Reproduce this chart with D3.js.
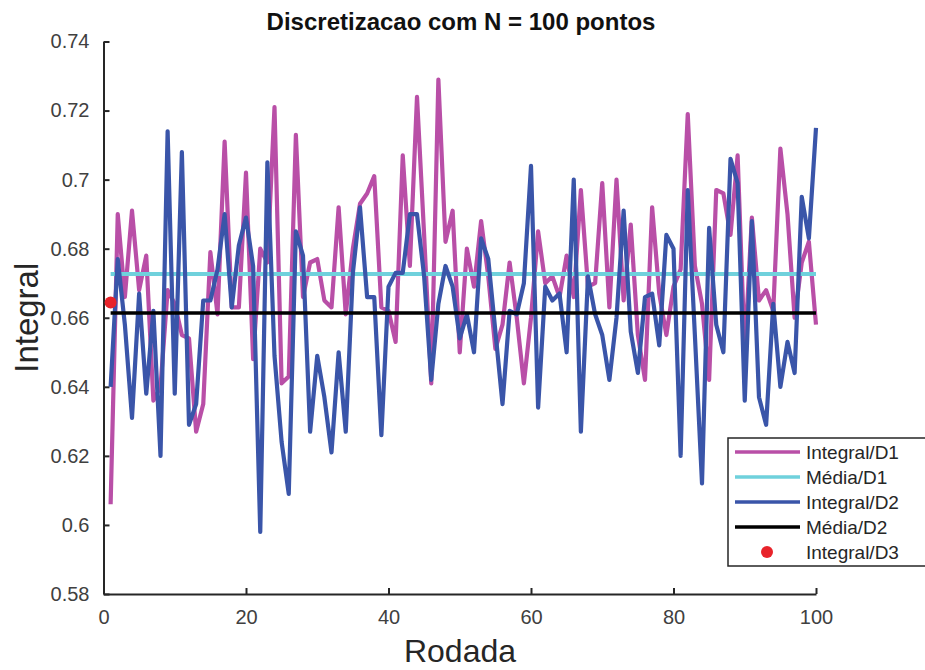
<!DOCTYPE html>
<html lang="pt">
<head>
    <meta charset="UTF-8">
    <title>Discretizacao</title>
    <style>
        body { margin: 0; background: #fff; }
        text { font-family: "Liberation Sans", Arial, Helvetica, sans-serif; }
    </style>
</head>
<body>
<div id="graph"></div>

<script src="https://cdnjs.cloudflare.com/ajax/libs/d3/7.8.5/d3.min.js"></script>

<script>
    // dados
    const rodadas = d3.range(1, 101);

    const integralD1 = [
        0.606, 0.690, 0.666, 0.691, 0.668, 0.678, 0.636, 0.640, 0.668, 0.664,
        0.655, 0.654, 0.627, 0.635, 0.679, 0.661, 0.711, 0.663, 0.663, 0.702,
        0.648, 0.680, 0.676, 0.721, 0.641, 0.643, 0.713, 0.666, 0.676, 0.677,
        0.665, 0.663, 0.692, 0.661, 0.680, 0.693, 0.696, 0.701, 0.663, 0.662,
        0.653, 0.707, 0.675, 0.724, 0.684, 0.641, 0.729, 0.682, 0.691, 0.650,
        0.680, 0.669, 0.688, 0.672, 0.651, 0.658, 0.676, 0.660, 0.641, 0.660,
        0.685, 0.670, 0.672, 0.666, 0.678, 0.666, 0.697, 0.669, 0.670, 0.699,
        0.663, 0.700, 0.665, 0.687, 0.655, 0.642, 0.692, 0.667, 0.655, 0.669,
        0.674, 0.719, 0.675, 0.664, 0.642, 0.697, 0.696, 0.684, 0.707, 0.650,
        0.689, 0.665, 0.668, 0.662, 0.709, 0.690, 0.660, 0.676, 0.682, 0.658
    ];

    const integralD2 = [
        0.640, 0.677, 0.658, 0.631, 0.667, 0.638, 0.662, 0.620, 0.714, 0.638,
        0.708, 0.629, 0.635, 0.665, 0.665, 0.674, 0.690, 0.663, 0.681, 0.689,
        0.675, 0.598, 0.705, 0.649, 0.624, 0.609, 0.685, 0.678, 0.627, 0.649,
        0.637, 0.621, 0.650, 0.627, 0.673, 0.692, 0.666, 0.666, 0.626, 0.669,
        0.673, 0.673, 0.690, 0.690, 0.672, 0.642, 0.664, 0.675, 0.669, 0.654,
        0.661, 0.650, 0.683, 0.677, 0.656, 0.635, 0.662, 0.661, 0.670, 0.704,
        0.634, 0.669, 0.665, 0.667, 0.650, 0.700, 0.627, 0.672, 0.661, 0.655,
        0.642, 0.660, 0.691, 0.656, 0.644, 0.666, 0.667, 0.652, 0.684, 0.680,
        0.620, 0.697, 0.655, 0.612, 0.686, 0.658, 0.650, 0.706, 0.699, 0.636,
        0.688, 0.637, 0.629, 0.664, 0.640, 0.653, 0.644, 0.695, 0.683, 0.715
    ];

    const mediaD1 = 0.6727;
    const mediaD2 = 0.6614;
    const integralD3 = {x: 1, y: 0.6644};

    const xTicks = [0, 20, 40, 60, 80, 100];
    const yTicks = [0.58, 0.6, 0.62, 0.64, 0.66, 0.68, 0.7, 0.72, 0.74];

    const legendItems = [
        {label: "Integral/D1", color: "#b94fa7", type: "line"},
        {label: "Média/D1", color: "#6fd1dc", type: "line"},
        {label: "Integral/D2", color: "#3a55a9", type: "line"},
        {label: "Média/D2", color: "#000000", type: "line"},
        {label: "Integral/D3", color: "#e8232a", type: "dot"}
    ];

    //config
    const width = 925, height = 670;
    const axisColor = "#262626";

    const svg = d3.select("#graph").append("svg")
        .attr("width", width)
        .attr("height", height);

    const x = d3.scaleLinear().domain([0, 100]).range([103.5, 816]);
    const y = d3.scaleLinear().domain([0.58, 0.74]).range([594, 41.5]);

    // eixos (box off, ticks para dentro)
    const xAxis = svg.append("g")
        .attr("transform", "translate(0," + y(0.58) + ")")
        .call(d3.axisBottom(x).tickValues(xTicks).tickSizeInner(-6).tickSizeOuter(0).tickPadding(16));
    const yAxis = svg.append("g")
        .attr("transform", "translate(" + x(0) + ",0)")
        .call(d3.axisLeft(y).tickValues(yTicks).tickFormat(d3.format("~g")).tickSizeInner(-6).tickSizeOuter(0).tickPadding(14));

    [xAxis, yAxis].forEach(a => {
        a.select(".domain").attr("stroke", axisColor).attr("stroke-width", 2);
        a.selectAll(".tick line").attr("stroke", axisColor).attr("stroke-width", 2);
        a.selectAll(".tick text")
            .attr("fill", "#404040")
            .style("font-size", "20px")
            .style("font-family", "'Liberation Sans', Arial, sans-serif");
    });

    const line = d3.line()
        .x((d, i) => x(rodadas[i]))
        .y(d => y(d));

    // Integral/D1
    svg.append("path")
        .datum(integralD1)
        .attr("d", line)
        .attr("fill", "none")
        .attr("stroke", legendItems[0].color)
        .attr("stroke-width", 4.2)
        .attr("stroke-linejoin", "round");

    // Media/D1
    svg.append("line")
        .attr("x1", x(1)).attr("x2", x(100))
        .attr("y1", y(mediaD1)).attr("y2", y(mediaD1))
        .attr("stroke", legendItems[1].color)
        .attr("stroke-width", 4);

    // Integral/D2
    svg.append("path")
        .datum(integralD2)
        .attr("d", line)
        .attr("fill", "none")
        .attr("stroke", legendItems[2].color)
        .attr("stroke-width", 4.2)
        .attr("stroke-linejoin", "round");

    // Media/D2
    svg.append("line")
        .attr("x1", x(1)).attr("x2", x(100))
        .attr("y1", y(mediaD2)).attr("y2", y(mediaD2))
        .attr("stroke", legendItems[3].color)
        .attr("stroke-width", 3.5);

    // Integral/D3
    svg.append("circle")
        .attr("cx", x(integralD3.x))
        .attr("cy", y(integralD3.y))
        .attr("r", 6)
        .attr("fill", legendItems[4].color);

    // titulo e rotulos
    svg.append("text")
        .attr("x", 461).attr("y", 30)
        .attr("text-anchor", "middle")
        .style("font-size", "24px")
        .style("font-weight", "bold")
        .attr("fill", "#111")
        .text("Discretizacao com N = 100 pontos");

    svg.append("text")
        .attr("x", 460).attr("y", 662)
        .attr("text-anchor", "middle")
        .style("font-size", "32px")
        .attr("fill", axisColor)
        .text("Rodada");

    svg.append("text")
        .attr("transform", "translate(38," + y(0.66) + ") rotate(-90)")
        .attr("text-anchor", "middle")
        .style("font-size", "33px")
        .attr("fill", axisColor)
        .text("Integral");

    // legenda
    const legend = svg.append("g").attr("transform", "translate(728,438)");
    legend.append("rect")
        .attr("width", 210).attr("height", 128)
        .attr("fill", "white")
        .attr("stroke", axisColor)
        .attr("stroke-width", 1.5);

    legendItems.forEach((item, i) => {
        const ly = 14 + i * 25;
        if (item.type === "line") {
            legend.append("line")
                .attr("x1", 7).attr("x2", 72)
                .attr("y1", ly).attr("y2", ly)
                .attr("stroke", item.color)
                .attr("stroke-width", 3.5);
        } else {
            legend.append("circle")
                .attr("cx", 39).attr("cy", ly)
                .attr("r", 6)
                .attr("fill", item.color);
        }
        legend.append("text")
            .attr("x", 78).attr("y", ly + 7)
            .style("font-size", "19px")
            .attr("fill", axisColor)
            .text(item.label);
    });
</script>
</body>
</html>
